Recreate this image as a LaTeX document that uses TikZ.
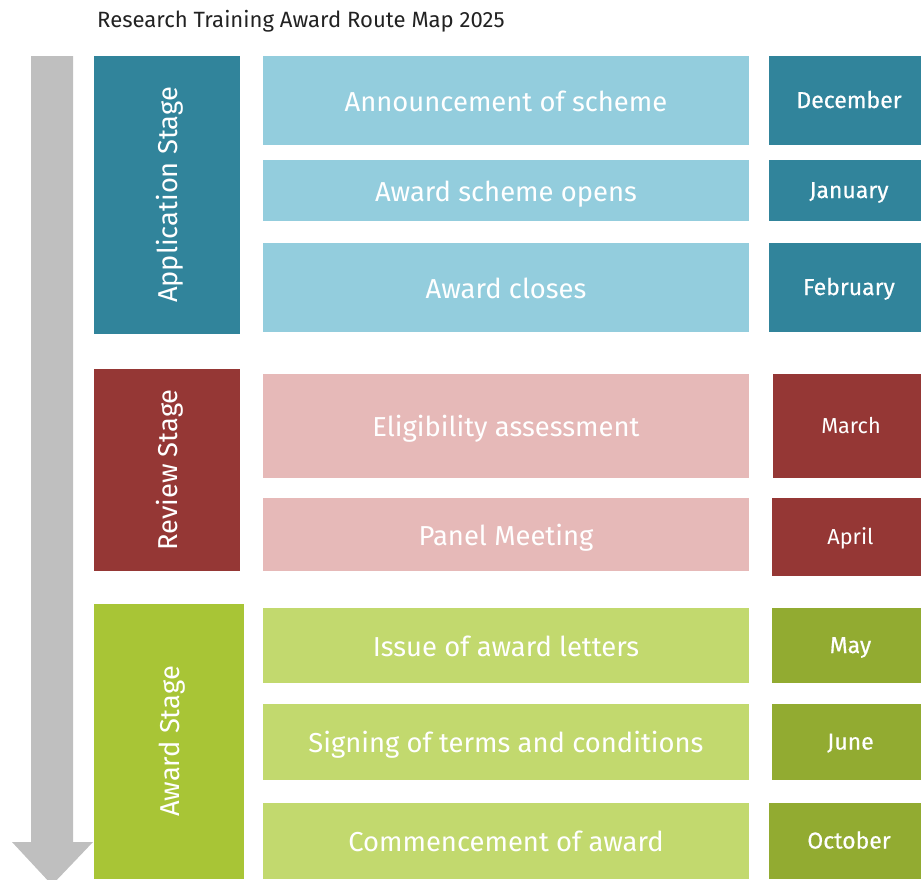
\documentclass[tikz,border=0pt]{standalone}
\usepackage{fontspec}
\setmainfont{Fira Sans}
\newfontfamily\medfont{Fira Sans}[FakeBold=0.5]
\definecolor{appdark}{HTML}{31849B}
\definecolor{applight}{HTML}{93CDDD}
\definecolor{revdark}{HTML}{953735}
\definecolor{revlight}{HTML}{E6B9B8}
\definecolor{awddark}{HTML}{A8C536}
\definecolor{awdlight}{HTML}{C2D96E}
\definecolor{awddate}{HTML}{92AB31}
\definecolor{arrowgray}{HTML}{BFBFBF}
\definecolor{titlegray}{HTML}{222222}
\tikzset{
  box/.style={rectangle, inner sep=0pt, outer sep=0pt, text=white, align=center},
  stagebox/.style={box, rotate=90, font=\fontsize{27.3}{30}\selectfont, text height=24pt, text depth=4pt},
  taskbox/.style={box, minimum width=486pt, font=\fontsize{27.4}{31}\selectfont, text height=23pt, text depth=2pt},
  datebox/.style={box, font=\medfont\fontsize{23}{27}\selectfont, text height=18pt, text depth=3pt},
  datesmall/.style={box, font=\fontsize{21.7}{25}\selectfont, text height=17pt, text depth=3pt},
}
\begin{document}
\begin{tikzpicture}[x=1pt,y=-1pt]
\useasboundingbox (0,0) rectangle (921,879);
% title
\node[anchor=base west, inner sep=0pt, text=titlegray, font=\fontsize{22.1}{26}\selectfont] (title) at (97,27) {Research Training Award Route Map 2025};
% arrow
\fill[arrowgray] (31,56) -- (73,56) -- (73,842) -- (93,842) -- (52,885) -- (12,842) -- (31,842) -- cycle;
% stages (rotated: minimum width = vertical extent)
\node[stagebox, fill=appdark, minimum width=278pt, minimum height=146pt] (app) at (167,195) {Application Stage};
\node[stagebox, fill=revdark, minimum width=202pt, minimum height=146pt] (rev) at (167,470) {Review Stage};
\node[stagebox, fill=awddark, minimum width=275pt, minimum height=150pt] (awd) at (169,741.5) {Award Stage};
% tasks
\node[taskbox, fill=applight, minimum height=89pt] (a1) at (506,100.5) {Announcement of scheme};
\node[taskbox, fill=applight, minimum height=61pt] (a2) at (506,190.5) {Award scheme opens};
\node[taskbox, fill=applight, minimum height=89pt] (a3) at (506,287.5) {Award closes};
\node[taskbox, fill=revlight, minimum height=104pt] (r1) at (506,426) {Eligibility assessment};
\node[taskbox, fill=revlight, minimum height=73pt] (r2) at (506,534.5) {Panel Meeting};
\node[taskbox, fill=awdlight, minimum height=75pt] (w1) at (506,645.5) {Issue of award letters};
\node[taskbox, fill=awdlight, minimum height=76pt] (w2) at (506,742) {Signing of terms and conditions};
\node[taskbox, fill=awdlight, minimum height=76pt] (w3) at (506,841) {Commencement of award};
% dates (boxes run past the right edge of the page)
\node[datebox, fill=appdark, minimum width=160pt, minimum height=89pt] (d1) at (849,100.5) {December};
\node[datebox, fill=appdark, minimum width=160pt, minimum height=61pt] (d2) at (849,190.5) {January};
\node[datebox, fill=appdark, minimum width=160pt, minimum height=89pt] (d3) at (849,287.5) {February};
\node[datesmall, fill=revdark, minimum width=156pt, minimum height=104pt] (d4) at (851,426) {March};
\node[datesmall, fill=revdark, minimum width=157pt, minimum height=78pt] (d5) at (850.5,537) {April};
\node[datebox, fill=awddate, minimum width=157pt, minimum height=75pt] (d6) at (850.5,645.5) {May};
\node[datebox, fill=awddate, minimum width=157pt, minimum height=76pt] (d7) at (850.5,742) {June};
\node[datebox, fill=awddate, minimum width=160pt, minimum height=76pt] (d8) at (849,841) {October};
\end{tikzpicture}
\end{document}
